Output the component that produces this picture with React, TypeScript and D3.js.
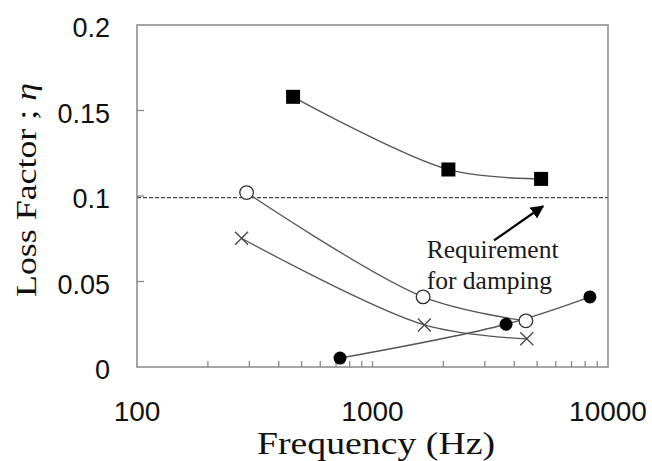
import * as d3 from 'd3';
import { useEffect, useRef } from 'react';

// frequency (Hz) / loss factor for each specimen
const squareFreq = [460, 2100, 5200];
const squareEta = [0.158, 0.1155, 0.11];
const openFreq = [292, 1640, 4480];
const openEta = [0.102, 0.041, 0.027];
const crossFreq = [278, 1660, 4520];
const crossEta = [0.0753, 0.0246, 0.0165];
const filledFreq = [728, 3690, 8380];
const filledEta = [0.0052, 0.025, 0.041];

const yTicks = [0, 0.05, 0.1, 0.15, 0.2];
const yTickLabels = ['0', '0.05', '0.1', '0.15', '0.2'];
const xTicks = [100, 1000, 10000];
const requirement = 0.099;

const W = 652;
const H = 461;

export default function App() {
  const svgRef = useRef<SVGSVGElement>(null);

  useEffect(() => {
    const svg = d3.select(svgRef.current);
    svg.selectAll('*').remove();

    const margin = { left: 137, right: 44, top: 25, bottom: 94 };
    const x = d3.scaleLog().domain([100, 10000]).range([margin.left, W - margin.right]);
    const y = d3.scaleLinear().domain([0, 0.2]).range([H - margin.bottom, margin.top]);
    const x0 = margin.left, x1 = W - margin.right, y0 = H - margin.bottom, y1 = margin.top;

    const lineCol = '#555';
    const axisCol = '#888';

    // requirement line
    svg.append('line')
      .attr('x1', x0).attr('x2', x1)
      .attr('y1', y(requirement)).attr('y2', y(requirement))
      .attr('stroke', '#444').attr('stroke-width', 1.2)
      .attr('stroke-dasharray', '4,2');

    // frame
    svg.append('rect')
      .attr('x', x0).attr('y', y1)
      .attr('width', x1 - x0).attr('height', y0 - y1)
      .attr('fill', 'none').attr('stroke', axisCol).attr('stroke-width', 1.5);

    // minor ticks along bottom
    const minor: number[] = [];
    for (const dec of [100, 1000]) for (let k = 2; k <= 9; k++) minor.push(dec * k);
    minor.push(1000);
    svg.append('g').selectAll('line').data(minor).join('line')
      .attr('x1', d => x(d)).attr('x2', d => x(d))
      .attr('y1', y0).attr('y2', y0 - 6)
      .attr('stroke', axisCol).attr('stroke-width', 1.3);

    // y ticks
    svg.append('g').selectAll('line').data(yTicks.slice(1, -1)).join('line')
      .attr('x1', x0).attr('x2', x0 + 7)
      .attr('y1', d => y(d)).attr('y2', d => y(d))
      .attr('stroke', axisCol).attr('stroke-width', 1.3);

    svg.append('g').selectAll('text').data(yTicks).join('text')
      .attr('x', 110).attr('y', d => y(d) + 12)
      .attr('text-anchor', 'end')
      .attr('font-family', 'Liberation Sans, Arial, sans-serif')
      .attr('font-size', 27)
      .attr('fill', '#111')
      .text((d, i) => yTickLabels[i]);

    svg.append('g').selectAll('text').data(xTicks).join('text')
      .attr('x', d => x(d)).attr('y', 421)
      .attr('text-anchor', 'middle')
      .attr('font-family', 'Liberation Sans, Arial, sans-serif')
      .attr('font-size', 28)
      .attr('fill', '#111')
      .text(d => String(d));

    // axis titles
    svg.append('text')
      .attr('x', 257).attr('y', 454)
      .attr('font-family', 'Liberation Serif, Times New Roman, serif')
      .attr('font-size', 31)
      .attr('textLength', 238).attr('lengthAdjust', 'spacingAndGlyphs')
      .attr('fill', '#111')
      .text('Frequency (Hz)');

    svg.append('text')
      .attr('transform', `translate(36,${297}) rotate(-90)`)
      .attr('font-family', 'Liberation Serif, Times New Roman, serif')
      .attr('font-size', 30)
      .attr('textLength', 214).attr('lengthAdjust', 'spacingAndGlyphs')
      .attr('fill', '#111')
      .text('Loss Factor ; ')
      .append('tspan').attr('font-style', 'italic').text('η');

    const curve = d3.line<[number, number]>()
      .x(d => x(d[0])).y(d => y(d[1]))
      .curve(d3.curveCatmullRom.alpha(0.5));

    const series = [
      { f: squareFreq, e: squareEta, m: 'square' },
      { f: openFreq, e: openEta, m: 'open' },
      { f: crossFreq, e: crossEta, m: 'cross' },
      { f: filledFreq, e: filledEta, m: 'filled' },
    ];

    for (const s of series) {
      const pts = s.f.map((f, i) => [f, s.e[i]] as [number, number]);
      svg.append('path')
        .attr('d', curve(pts))
        .attr('fill', 'none').attr('stroke', lineCol).attr('stroke-width', 1.3);
    }

    for (const s of series) {
      const pts = s.f.map((f, i) => [f, s.e[i]] as [number, number]);
      const g = svg.append('g');
      if (s.m === 'square') {
        g.selectAll('rect').data(pts).join('rect')
          .attr('x', d => x(d[0]) - 7).attr('y', d => y(d[1]) - 7)
          .attr('width', 14).attr('height', 14)
          .attr('fill', '#000');
      } else if (s.m === 'open') {
        g.selectAll('circle').data(pts).join('circle')
          .attr('cx', d => x(d[0])).attr('cy', d => y(d[1])).attr('r', 6.8)
          .attr('fill', '#fff').attr('stroke', '#333').attr('stroke-width', 1.3);
      } else if (s.m === 'filled') {
        g.selectAll('circle').data(pts).join('circle')
          .attr('cx', d => x(d[0])).attr('cy', d => y(d[1])).attr('r', 6.5)
          .attr('fill', '#000');
      } else {
        g.selectAll('path').data(pts).join('path')
          .attr('d', d => {
            const cx = x(d[0]), cy = y(d[1]), r = 6.5;
            return `M${cx - r},${cy - r}L${cx + r},${cy + r}M${cx - r},${cy + r}L${cx + r},${cy - r}`;
          })
          .attr('stroke', '#444').attr('stroke-width', 1.3);
      }
    }

    // annotation
    const defs = svg.append('defs');
    defs.append('marker')
      .attr('id', 'arrow').attr('viewBox', '0 0 10 10')
      .attr('refX', 9).attr('refY', 5)
      .attr('markerWidth', 6).attr('markerHeight', 6)
      .attr('orient', 'auto')
      .append('path').attr('d', 'M0,0L10,5L0,10z').attr('fill', '#000');

    svg.append('line')
      .attr('x1', x(3280)).attr('y1', y(0.074))
      .attr('x2', x(5300)).attr('y2', y(0.094))
      .attr('stroke', '#000').attr('stroke-width', 2.2)
      .attr('marker-end', 'url(#arrow)');

    const ann = svg.append('text')
      .attr('font-family', 'Liberation Serif, Times New Roman, serif')
      .attr('font-size', 25.5)
      .attr('fill', '#1a1a1a');
    ann.append('tspan').attr('x', x(1700)).attr('y', y(0.0637)).text('Requirement');
    ann.append('tspan').attr('x', x(1700)).attr('y', y(0.0456)).text('for damping');
  }, []);

  return (
    <svg ref={svgRef} width={W} height={H}
      style={{ position: 'absolute', left: 0, top: 0, background: '#fff' }} />
  );
}
